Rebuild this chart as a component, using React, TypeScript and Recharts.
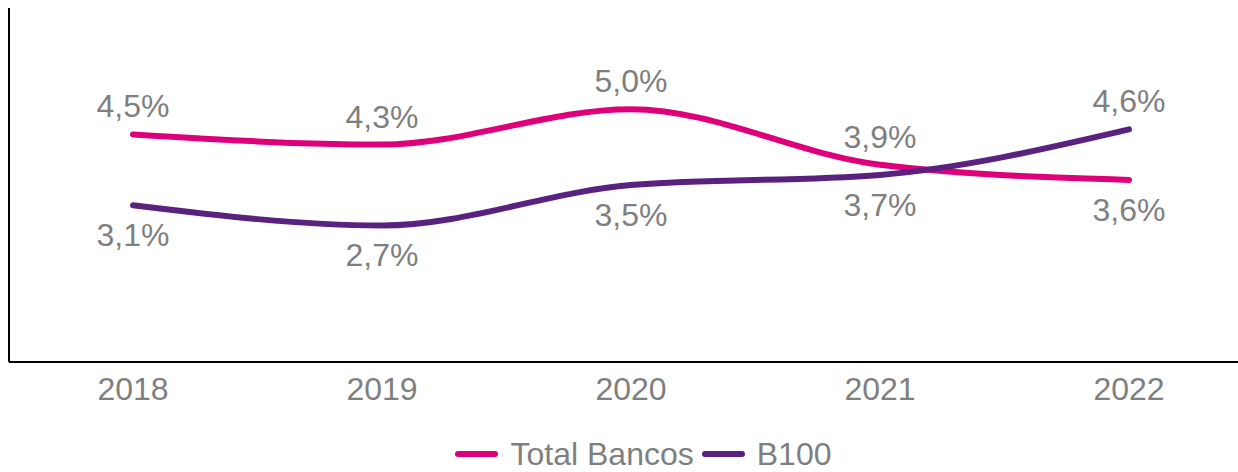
import { LineChart, Line, XAxis, YAxis, Legend } from 'recharts'

const YEARS = ['2018', '2019', '2020', '2021', '2022']
const TOTAL_BANCOS = [4.5, 4.3, 5.0, 3.9, 3.6]
const B100 = [3.1, 2.7, 3.5, 3.7, 4.6]

const PINK = '#DE007B'
const PURPLE = '#5B217E'
const GREY = '#7F7F7F'
const FONT = '"Liberation Sans", Arial, sans-serif'

const data = YEARS.map((year, i) => ({ year, total: TOTAL_BANCOS[i], b100: B100[i] }))

const fmt = (v: number) => v.toFixed(1).replace('.', ',') + '%'

// label goes above the line when this series is the higher one at that year
const makeLabel = (own: number[], other: number[]) => (props: any) => {
  const { x, y, index } = props
  const above = own[index] > other[index]
  return (
    <text x={x} y={above ? y - 17 : y + 41} textAnchor="middle" fill={GREY}
      style={{ fontFamily: FONT, fontSize: 32 }}>
      {fmt(own[index])}
    </text>
  )
}

const LegendContent = () => (
  <div style={{ display: 'flex', justifyContent: 'center', alignItems: 'center', fontFamily: FONT, fontSize: 32, lineHeight: '34px', color: GREY }}>
    <span style={{ display: 'inline-block', width: 43, height: 6, borderRadius: 3, background: PINK, marginRight: 13 }} />
    <span style={{ marginRight: 8 }}>Total Bancos</span>
    <span style={{ display: 'inline-block', width: 43, height: 6, borderRadius: 3, background: PURPLE, marginRight: 12 }} />
    <span>B100</span>
  </div>
)

export default function App() {
  return (
    <div style={{ position: 'absolute', left: 0, top: 0, width: 1238, height: 472, overflow: 'hidden', background: '#fff' }}>
      <LineChart width={1260} height={472} data={data} margin={{ top: 8, right: 7, left: 8, bottom: 50 }}>
        <XAxis dataKey="year" height={60} tickLine={false} tickMargin={9} interval={0}
          padding={{ left: 124, right: 124 }}
          axisLine={{ stroke: '#000', strokeWidth: 2 }}
          tick={{ fill: GREY, fontSize: 32, fontFamily: FONT }} />
        <YAxis width={1} domain={[0, 7]} tick={false} tickLine={false}
          axisLine={{ stroke: '#000', strokeWidth: 2 }} />
        <Legend verticalAlign="middle" content={<LegendContent />}
          wrapperStyle={{ top: 437, left: 24, width: 1238 }} />
        <Line type="monotone" dataKey="total" name="Total Bancos" stroke={PINK} strokeWidth={6}
          strokeLinecap="round" dot={false} isAnimationActive={false}
          label={makeLabel(TOTAL_BANCOS, B100)} />
        <Line type="monotone" dataKey="b100" name="B100" stroke={PURPLE} strokeWidth={6}
          strokeLinecap="round" dot={false} isAnimationActive={false}
          label={makeLabel(B100, TOTAL_BANCOS)} />
      </LineChart>
    </div>
  )
}
